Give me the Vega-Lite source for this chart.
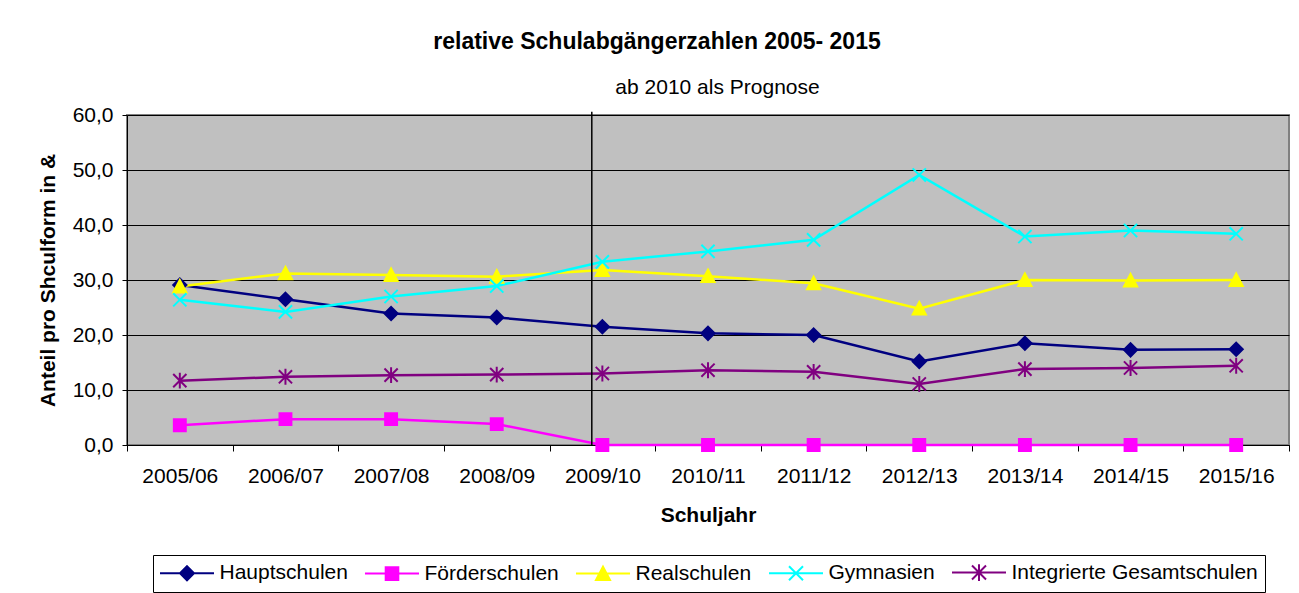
{
  "$schema": "https://vega.github.io/schema/vega-lite/v6.json",
  "width": 1162,
  "height": 330,
  "autosize": {"type": "none"},
  "padding": {"left": 127, "top": 115, "right": 10, "bottom": 148},
  "background": "white",
  "config": {
    "font": "Liberation Sans",
    "view": {"fill": "#C0C0C0", "stroke": "#808080", "strokeWidth": 2},
    "axis": {"labelColor": "black", "titleColor": "black", "domainColor": "black", "tickColor": "black", "gridColor": "black"}
  },
  "title": {
    "text": "relative Schulabgängerzahlen 2005- 2015",
    "fontSize": 23,
    "fontWeight": "bold",
    "color": "black",
    "anchor": "middle",
    "frame": "group",
    "dx": -51,
    "offset": 22
  },
  "data": {
    "values": [
      {"Schuljahr": "2005/06", "Schulform": "Hauptschulen", "Anteil": 29.1},
      {"Schuljahr": "2006/07", "Schulform": "Hauptschulen", "Anteil": 26.5},
      {"Schuljahr": "2007/08", "Schulform": "Hauptschulen", "Anteil": 23.9},
      {"Schuljahr": "2008/09", "Schulform": "Hauptschulen", "Anteil": 23.2},
      {"Schuljahr": "2009/10", "Schulform": "Hauptschulen", "Anteil": 21.5},
      {"Schuljahr": "2010/11", "Schulform": "Hauptschulen", "Anteil": 20.3},
      {"Schuljahr": "2011/12", "Schulform": "Hauptschulen", "Anteil": 20.0},
      {"Schuljahr": "2012/13", "Schulform": "Hauptschulen", "Anteil": 15.2},
      {"Schuljahr": "2013/14", "Schulform": "Hauptschulen", "Anteil": 18.5},
      {"Schuljahr": "2014/15", "Schulform": "Hauptschulen", "Anteil": 17.3},
      {"Schuljahr": "2015/16", "Schulform": "Hauptschulen", "Anteil": 17.4},
      {"Schuljahr": "2005/06", "Schulform": "Förderschulen", "Anteil": 3.6},
      {"Schuljahr": "2006/07", "Schulform": "Förderschulen", "Anteil": 4.7},
      {"Schuljahr": "2007/08", "Schulform": "Förderschulen", "Anteil": 4.7},
      {"Schuljahr": "2008/09", "Schulform": "Förderschulen", "Anteil": 3.8},
      {"Schuljahr": "2009/10", "Schulform": "Förderschulen", "Anteil": 0},
      {"Schuljahr": "2010/11", "Schulform": "Förderschulen", "Anteil": 0},
      {"Schuljahr": "2011/12", "Schulform": "Förderschulen", "Anteil": 0},
      {"Schuljahr": "2012/13", "Schulform": "Förderschulen", "Anteil": 0},
      {"Schuljahr": "2013/14", "Schulform": "Förderschulen", "Anteil": 0},
      {"Schuljahr": "2014/15", "Schulform": "Förderschulen", "Anteil": 0},
      {"Schuljahr": "2015/16", "Schulform": "Förderschulen", "Anteil": 0},
      {"Schuljahr": "2005/06", "Schulform": "Realschulen", "Anteil": 28.8},
      {"Schuljahr": "2006/07", "Schulform": "Realschulen", "Anteil": 31.2},
      {"Schuljahr": "2007/08", "Schulform": "Realschulen", "Anteil": 30.9},
      {"Schuljahr": "2008/09", "Schulform": "Realschulen", "Anteil": 30.6},
      {"Schuljahr": "2009/10", "Schulform": "Realschulen", "Anteil": 31.8},
      {"Schuljahr": "2010/11", "Schulform": "Realschulen", "Anteil": 30.7},
      {"Schuljahr": "2011/12", "Schulform": "Realschulen", "Anteil": 29.4},
      {"Schuljahr": "2012/13", "Schulform": "Realschulen", "Anteil": 24.8},
      {"Schuljahr": "2013/14", "Schulform": "Realschulen", "Anteil": 30.0},
      {"Schuljahr": "2014/15", "Schulform": "Realschulen", "Anteil": 29.9},
      {"Schuljahr": "2015/16", "Schulform": "Realschulen", "Anteil": 30.0},
      {"Schuljahr": "2005/06", "Schulform": "Gymnasien", "Anteil": 26.4},
      {"Schuljahr": "2006/07", "Schulform": "Gymnasien", "Anteil": 24.2},
      {"Schuljahr": "2007/08", "Schulform": "Gymnasien", "Anteil": 27.0},
      {"Schuljahr": "2008/09", "Schulform": "Gymnasien", "Anteil": 28.9},
      {"Schuljahr": "2009/10", "Schulform": "Gymnasien", "Anteil": 33.3},
      {"Schuljahr": "2010/11", "Schulform": "Gymnasien", "Anteil": 35.2},
      {"Schuljahr": "2011/12", "Schulform": "Gymnasien", "Anteil": 37.3},
      {"Schuljahr": "2012/13", "Schulform": "Gymnasien", "Anteil": 49.1},
      {"Schuljahr": "2013/14", "Schulform": "Gymnasien", "Anteil": 37.9},
      {"Schuljahr": "2014/15", "Schulform": "Gymnasien", "Anteil": 39.0},
      {"Schuljahr": "2015/16", "Schulform": "Gymnasien", "Anteil": 38.4},
      {"Schuljahr": "2005/06", "Schulform": "Integrierte Gesamtschulen", "Anteil": 11.7},
      {"Schuljahr": "2006/07", "Schulform": "Integrierte Gesamtschulen", "Anteil": 12.4},
      {"Schuljahr": "2007/08", "Schulform": "Integrierte Gesamtschulen", "Anteil": 12.7},
      {"Schuljahr": "2008/09", "Schulform": "Integrierte Gesamtschulen", "Anteil": 12.8},
      {"Schuljahr": "2009/10", "Schulform": "Integrierte Gesamtschulen", "Anteil": 13.0},
      {"Schuljahr": "2010/11", "Schulform": "Integrierte Gesamtschulen", "Anteil": 13.6},
      {"Schuljahr": "2011/12", "Schulform": "Integrierte Gesamtschulen", "Anteil": 13.3},
      {"Schuljahr": "2012/13", "Schulform": "Integrierte Gesamtschulen", "Anteil": 11.1},
      {"Schuljahr": "2013/14", "Schulform": "Integrierte Gesamtschulen", "Anteil": 13.8},
      {"Schuljahr": "2014/15", "Schulform": "Integrierte Gesamtschulen", "Anteil": 14.0},
      {"Schuljahr": "2015/16", "Schulform": "Integrierte Gesamtschulen", "Anteil": 14.4}
    ]
  },
  "layer": [
    {
      "mark": {"type": "line", "strokeWidth": 2.5},
      "encoding": {
        "x": {
          "field": "Schuljahr",
          "type": "ordinal",
          "scale": {"type": "band", "paddingInner": 0, "paddingOuter": 0},
          "axis": {
            "orient": "bottom",
            "title": "Schuljahr",
            "titleFontSize": 21,
            "titleFontWeight": "bold",
            "titlePadding": 18,
            "labelFontSize": 21,
            "labelAngle": 0,
            "labelPadding": 14,
            "tickSize": 6,
            "tickBand": "extent",
            "grid": false
          }
        },
        "y": {
          "field": "Anteil",
          "type": "quantitative",
          "scale": {"domain": [0, 60], "nice": false, "zero": true},
          "axis": {
            "title": "Anteil pro Shculform in &",
            "titleFontSize": 21,
            "titleFontWeight": "bold",
            "titlePadding": 14,
            "values": [0, 10, 20, 30, 40, 50, 60],
            "labelExpr": "replace(format(datum.value, '.1f'), '.', ',')",
            "labelFontSize": 21,
            "labelPadding": 9,
            "tickSize": 5,
            "grid": true,
            "gridColor": "black",
            "gridWidth": 1,
            "domainColor": "black"
          }
        },
        "color": {
          "field": "Schulform",
          "type": "nominal",
          "scale": {
            "domain": ["Hauptschulen", "Förderschulen", "Realschulen", "Gymnasien", "Integrierte Gesamtschulen"],
            "range": ["#000080", "#FF00FF", "#FFFF00", "#00FFFF", "#800080"]
          },
          "legend": {
            "orient": "none",
            "legendX": 26,
            "legendY": 440,
            "direction": "horizontal",
            "columns": 5,
            "title": null,
            "labelFontSize": 21,
            "labelLimit": 400,
            "labelColor": "black",
            "symbolSize": 196,
            "symbolStrokeWidth": 2,
            "symbolOffset": 16.5,
            "labelOffset": 22,
            "columnPadding": 12,
            "padding": 7,
            "strokeColor": "black",
            "fillColor": "white",
            "encode": {
              "symbols": {
                "update": {
                  "shape": {"signal": "datum.value === 'Hauptschulen' ? 'M-3.86,0L3.86,0M0,-1L1,0L0,1L-1,0Z' : datum.value === 'Förderschulen' ? 'M-3.86,0L3.86,0M-0.9,-0.9L0.9,-0.9L0.9,0.9L-0.9,0.9Z' : datum.value === 'Realschulen' ? 'M-3.86,0L3.86,0M0,-1L1,0.9L-1,0.9Z' : datum.value === 'Gymnasien' ? 'M-3.86,0L3.86,0M-1,-1L1,1M1,-1L-1,1' : 'M-3.86,0L3.86,0M-1,-1L1,1M1,-1L-1,1M0,-1.2L0,1.2'"},
                  "fill": {"signal": "scale('color', datum.value)"},
                  "stroke": {"signal": "scale('color', datum.value)"},
                  "strokeWidth": {"value": 2},
                  "opacity": {"value": 1}
                }
              }
            }
          }
        }
      }
    },
    {
      "mark": {"type": "point", "filled": true, "size": 175, "strokeWidth": 2, "opacity": 1},
      "encoding": {
        "x": {"field": "Schuljahr", "type": "ordinal", "axis": null},
        "y": {"field": "Anteil", "type": "quantitative"},
        "color": {"field": "Schulform", "type": "nominal"},
        "stroke": {
          "field": "Schulform",
          "type": "nominal",
          "scale": {
            "range": ["#FF00FF", "#00FFFF", "#000080", "#800080", "#FFFF00"]
          },
          "legend": null
        },
        "shape": {
          "field": "Schulform",
          "type": "nominal",
          "scale": {
            "range": ["M-0.9,-0.9L0.9,-0.9L0.9,0.9L-0.9,0.9Z", "M-1,-1L1,1M1,-1L-1,1", "M0,-1L1,0L0,1L-1,0Z", "M-1,-1L1,1M1,-1L-1,1M0,-1.2L0,1.2", "M0,-1L1,0.9L-1,0.9Z"]
          },
          "legend": null
        }
      }
    },
    {
      "data": {"values": [{"Schuljahr": "2009/10"}]},
      "mark": {"type": "rule", "color": "black", "strokeWidth": 1.5},
      "encoding": {
        "x": {
          "field": "Schuljahr",
          "type": "ordinal",
          "bandPosition": 0.4,
          "axis": {
            "orient": "top",
            "domain": false,
            "ticks": false,
            "labels": false,
            "grid": false,
            "title": "ab 2010 als Prognose",
            "titleFontSize": 21,
            "titleFontWeight": "normal",
            "titlePadding": 18,
            "titleX": 590,
            "titleAlign": "center"
          }
        },
        "y": {"datum": 60.6},
        "y2": {"datum": 0}
      }
    }
  ],
  "resolve": {"axis": {"x": "independent"}}
}
